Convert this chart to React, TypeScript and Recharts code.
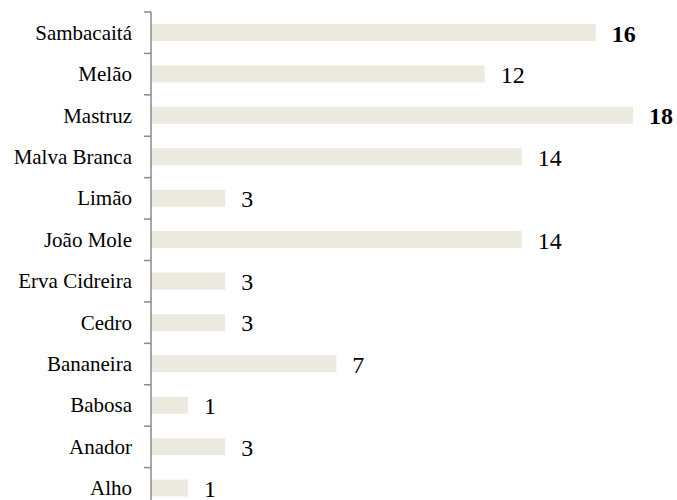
import React from 'react';
import { BarChart, Bar, XAxis, YAxis, LabelList } from 'recharts';

// categories, top to bottom
const plants = [
  'Sambacaitá', 'Melão', 'Mastruz', 'Malva Branca', 'Limão', 'João Mole',
  'Erva Cidreira', 'Cedro', 'Bananeira', 'Babosa', 'Anador', 'Alho',
];
// bar lengths as drawn in the picture
const barLengths = [12, 9, 13, 10, 2, 10, 2, 2, 5, 1, 2, 1];
// numbers printed next to the bars
const labelValues = [16, 12, 18, 14, 3, 14, 3, 3, 7, 1, 3, 1];
const boldLabels = ['Sambacaitá', 'Mastruz'];

const data = plants.map((name, i) => ({ name, len: barLengths[i], label: labelValues[i] }));

const FONT = "'Liberation Serif', 'Times New Roman', 'DejaVu Serif', serif";
const W = 677;
const H = 509;
const TOP = 12;
const AXIS_W = 151;
const BAND = (H - TOP) / plants.length;
const AXIS_COLOR = '#8a8a8a';

const PlantTick = (props: any) => {
  const { x, y, payload } = props;
  const edge = y - BAND / 2;
  return (
    <g>
      <line x1={x + 12} y1={edge} x2={x + 19} y2={edge} stroke={AXIS_COLOR} strokeWidth={1.5} />
      <text x={x} y={y} textAnchor="end" dominantBaseline="central" fill="#000"
        style={{ fontFamily: FONT, fontSize: 21 }}>
        {payload.value}
      </text>
    </g>
  );
};

const ValueLabel = (props: any) => {
  const { x, y, width, height, index } = props;
  const bold = boldLabels.includes(plants[index]);
  return (
    <text
      x={x + width + 16}
      y={y + height / 2 + 1}
      dominantBaseline="central"
      fill="#000"
      style={{ fontFamily: FONT, fontSize: 24, fontWeight: bold ? 'bold' : 'normal' }}
    >
      {labelValues[index]}
    </text>
  );
};

const App: React.FC = () => {
  return (
    <div style={{ position: 'fixed', top: 0, left: 0, width: W, height: 500, overflow: 'hidden', background: '#fff', fontFamily: FONT }}>
      <BarChart
        width={W}
        height={H}
        data={data}
        layout="vertical"
        margin={{ top: TOP, right: 7, bottom: 0, left: 0 }}
        barSize={17}
      >
        <XAxis type="number" domain={[0, 14]} hide />
        <YAxis
          type="category"
          dataKey="name"
          width={AXIS_W}
          axisLine={{ stroke: AXIS_COLOR, strokeWidth: 1.5 }}
          tickLine={false}
          tickSize={0}
          tickMargin={19}
          interval={0}
          tick={<PlantTick />}
        />
        <Bar dataKey="len" fill="#ECE9DF" isAnimationActive={false}>
          <LabelList dataKey="label" content={<ValueLabel />} />
        </Bar>
      </BarChart>
    </div>
  );
};

export default App;
